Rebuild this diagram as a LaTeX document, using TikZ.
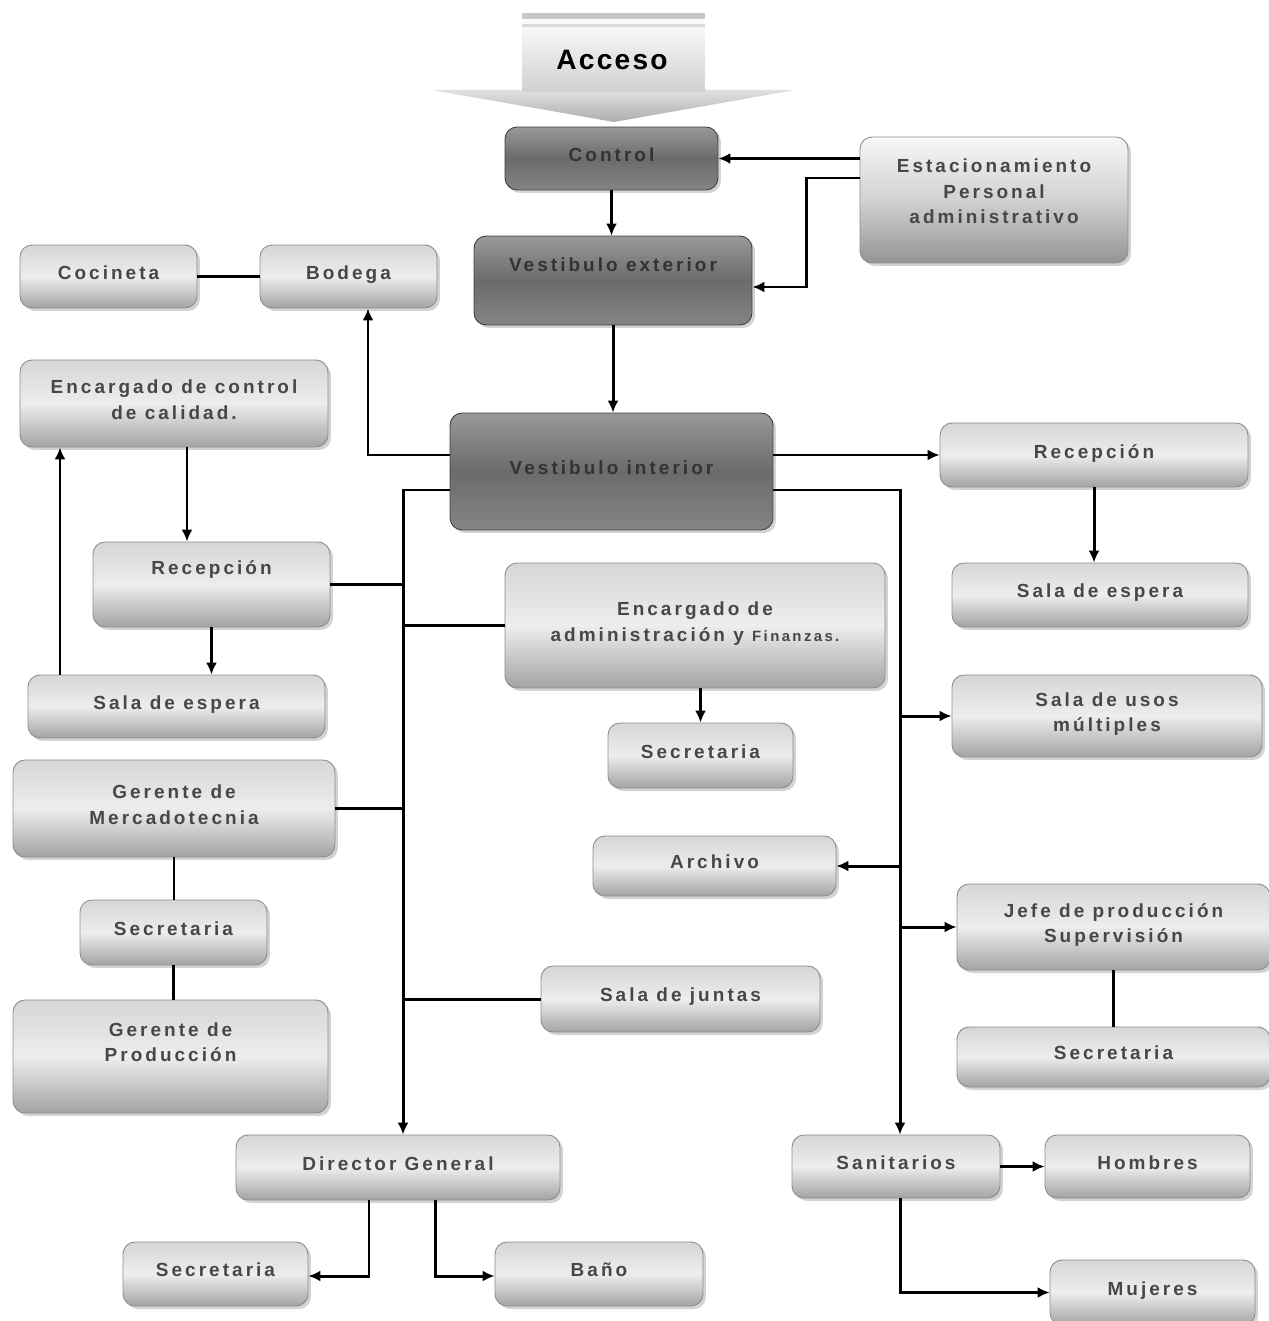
\documentclass[tikz,border=0pt]{standalone}
\usepackage{fontspec}
\setmainfont{Liberation Sans}[LetterSpace=16]
\usetikzlibrary{arrows.meta,shadows}

\begin{document}
\begin{tikzpicture}[
    >={Latex[length=2.4mm,width=2.2mm]},
    line width=1.7pt,
    lbox/.style={draw=black!45, line width=0.5pt, rounded corners=0.24cm,
      top color=black!16, bottom color=black!36, middle color=black!7,
      drop shadow={opacity=0.35,shadow xshift=0.06cm,shadow yshift=-0.06cm},
      text=black!72, align=center, inner sep=0pt, text depth=0.45em,
      font=\fontsize{10.8}{14.5}\selectfont\bfseries},
    dbox/.style={lbox, draw=black!75, text=black!80,
      top color=black!40, bottom color=black!48, middle color=black!58}
  ]
    \def\x{0.02}
    \def\y{-0.02}
    \useasboundingbox (0,0) rectangle (1268*\x, 1321*\y);
    \shade[top color=black!12, bottom color=black!32]
      (432*\x, 90*\y) -- (795*\x, 90*\y) -- (614*\x, 122*\y) -- cycle;
    \shade[top color=white, bottom color=black!18] (522*\x, 13*\y) rectangle (705*\x, 92*\y);
    \fill[black!22] (522*\x, 13*\y) rectangle (705*\x, 19*\y);
    \fill[black!15] (522*\x, 24*\y) rectangle (705*\x, 27*\y);
    \node (A0_2) at (612*\x, 60*\y) {\fontsize{16}{18}\selectfont\bfseries\addfontfeature{LetterSpace=8}Acceso};

    \node[dbox, minimum width=4.26cm, minimum height=1.26cm] (A1_2) at (611.5*\x, 158.5*\y) {Control};
    \node[lbox, top color=black!3, bottom color=black!42, middle color=black!18,
      minimum width=5.36cm, minimum height=2.52cm, text depth=0.98em] (A1_3) at (994*\x, 200*\y)
      {Estacionamiento\\Personal\\administrativo};
    \node[lbox, minimum width=3.54cm, minimum height=1.26cm] (A2_0) at (108.5*\x, 276.5*\y) {Cocineta};
    \node[lbox, minimum width=3.54cm, minimum height=1.26cm] (A2_1) at (348.5*\x, 276.5*\y) {Bodega};
    \node[dbox, minimum width=5.56cm, minimum height=1.78cm, text depth=1.85em] (A2_2) at (613*\x, 280.5*\y) {Vestibulo exterior};
    \node[lbox, minimum width=6.16cm, minimum height=1.74cm] (A3_0) at (174*\x, 403.5*\y) {Encargado de control\\de calidad.};
    \node[dbox, minimum width=6.46cm, minimum height=2.34cm] (A3_2) at (611.5*\x, 471.5*\y) {Vestibulo interior};
    \node[lbox, minimum width=6.16cm, minimum height=1.28cm] (A3_3) at (1094*\x, 455*\y) {Recepción};
    \node[lbox, minimum width=4.74cm, minimum height=1.70cm, text depth=1.93em] (A4_0) at (211.5*\x, 584.5*\y) {Recepción};
    \node[lbox, minimum width=7.6cm, minimum height=2.5cm] (A4_2) at (695*\x, 625.5*\y)
      {Encargado de\\administración y {\fontsize{8.5}{10}\selectfont Finanzas.}};
    \node[lbox, minimum width=5.92cm, minimum height=1.28cm] (A4_3) at (1100*\x, 595*\y) {Sala de espera};
    \node[lbox, minimum width=5.94cm, minimum height=1.26cm] (A5_0) at (176.5*\x, 706.5*\y) {Sala de espera};
    \node[lbox, minimum width=3.7cm, minimum height=1.3cm] (A5_2) at (700.5*\x, 755.5*\y) {Secretaria};
    \node[lbox, minimum width=6.2cm, minimum height=1.64cm] (A5_3) at (1107*\x, 716*\y) {Sala de usos\\múltiples};
    \node[lbox, minimum width=6.44cm, minimum height=1.94cm] (A6_0) at (174*\x, 808.5*\y) {Gerente de\\Mercadotecnia};
    \node[lbox, minimum width=4.86cm, minimum height=1.2cm] (A6_2) at (714.5*\x, 866*\y) {Archivo};
    \node[lbox, minimum width=6.26cm, minimum height=1.72cm] (A6_3) at (1113.5*\x, 927*\y) {Jefe de producción\\Supervisión};
    \node[lbox, minimum width=3.74cm, minimum height=1.3cm] (A7_0) at (173.5*\x, 932.5*\y) {Secretaria};
    \node[lbox, minimum width=5.58cm, minimum height=1.32cm] (A7_2) at (680.5*\x, 999*\y) {Sala de juntas};
    \node[lbox, minimum width=6.26cm, minimum height=1.2cm] (A7_3) at (1113.5*\x, 1057*\y) {Secretaria};
    \node[lbox, minimum width=6.3cm, minimum height=2.26cm, text depth=1.62em] (A8_0) at (170.5*\x, 1056.5*\y) {Gerente de\\Producción};
    \node[lbox, minimum width=6.48cm, minimum height=1.3cm] (A9_1) at (398*\x, 1167.5*\y) {Director General};
    \node[lbox, minimum width=4.16cm, minimum height=1.26cm] (A9_2) at (896*\x, 1166.5*\y) {Sanitarios};
    \node[lbox, minimum width=4.1cm, minimum height=1.26cm] (A9_3) at (1147.5*\x, 1166.5*\y) {Hombres};
    \node[lbox, minimum width=3.7cm, minimum height=1.28cm] (A10_0) at (215.5*\x, 1274*\y) {Secretaria};
    \node[lbox, minimum width=4.16cm, minimum height=1.28cm] (A10_1) at (599*\x, 1274*\y) {Baño};
    \node[lbox, minimum width=4.1cm, minimum height=1.3cm] (A10_3) at (1152.5*\x, 1292.5*\y) {Mujeres};

    \coordinate (B0) at (806*\x, 178*\y);
    \coordinate (B1) at (806*\x, 287*\y);
    \coordinate (B2) at (368*\x, 455*\y);
    \coordinate (B3) at (403*\x, 490*\y);
    \coordinate (B4) at (900*\x, 490*\y);
    \coordinate (B5) at (187*\x, 0);
    \coordinate (B6) at (60*\x, 0);
    \coordinate (B7) at (369*\x, 1276*\y);
    \coordinate (B8) at (435*\x, 1276*\y);

    \path (A1_3.west |- A1_2.east) edge [->] (A1_2.east);
    \draw [->] (A1_3.west |- B0) -- (B0) -- (B1) -- (A2_2.east |- B1);
    \draw [->] (A1_2.south) -- (A1_2.south |- A2_2.north);
    \draw [->] (A2_2.south) -- (A2_2.south |- A3_2.north);
    \draw (A2_0) -- (A2_1);
    \draw [->] (A3_2.west |- B2) -- (B2) -- (B2 |- A2_1.south);
    \draw [->] (A3_2.east |- A3_3.west) -- (A3_3.west);
    \draw [->] (A3_3.south) -- (A3_3.south |- A4_3.north);
    \draw [->] (A3_2.west |- B3) -- (B3) -- (B3 |- A9_1.north);
    \draw (A4_0.east) -- (A4_0.east -| B3);
    \draw (A4_2.west) -- (A4_2.west -| B3);
    \draw (A6_0.east) -- (A6_0.east -| B3);
    \draw (A7_2.west) -- (A7_2.west -| B3);
    \draw [->] (A3_2.east |- B4) -- (B4) -- (B4 |- A9_2.north);
    \draw [->] (B4 |- A5_3.west) -- (A5_3.west);
    \draw [->] (B4 |- A6_2.east) -- (A6_2.east);
    \draw [->] (B4 |- A6_3.west) -- (A6_3.west);
    \draw [->] (A5_2.north |- A4_2.south) -- (A5_2.north);
    \draw [->] (A3_0.south -| B5) -- (A4_0.north -| B5);
    \draw [->] (A4_0.south) -- (A4_0.south |- A5_0.north);
    \draw [->] (A5_0.north -| B6) -- (A3_0.south -| B6);
    \draw (A6_0.south) -- (A6_0.south |- A7_0.north);
    \draw (A7_0.south) -- (A7_0.south |- A8_0.north);
    \draw (A6_3) -- (A7_3);
    \draw [->] (A9_1.south -| B7) -- (B7) -- (A10_0.east |- B7);
    \draw [->] (A9_1.south -| B8) -- (B8) -- (A10_1.west |- B8);
    \draw [->] (A9_2) -- (A9_3);
    \draw [->] (A9_2.south -| B4) |- (A10_3.west);
  \end{tikzpicture}
\end{document}
